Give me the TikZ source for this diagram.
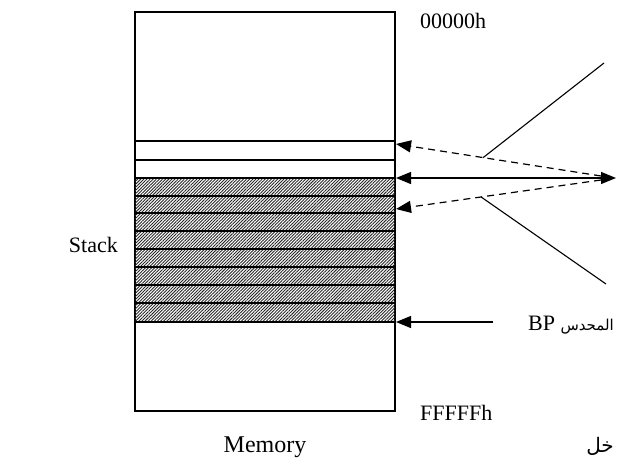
\documentclass[tikz,border=0pt]{standalone}
\usepackage{fontspec}
\setmainfont{Liberation Serif}
\newfontfamily\arabicfont[Script=Arabic]{DejaVu Sans}
\TeXXeTstate=1
\usetikzlibrary{arrows.meta,patterns.meta,calc}

\begin{document}
\begin{tikzpicture}[x=1pt,y=-1pt,
  font=\fontsize{22}{26}\selectfont,
  rowline/.style={line width=1.1pt},
  hatched/.style={pattern={Lines[angle=45,distance=2.2pt,line width=0.9pt]},pattern color=black!85},
  ptr/.style={line width=1.2pt,-{Triangle[length=15pt,width=12pt]}},
  dptr/.style={ptr,dash pattern=on 7pt off 5pt},
  lead/.style={line width=1.1pt},
  lbl/.style={inner sep=0pt,anchor=base west}]
\clip (0,0) rectangle (617,463);

% memory column: a tall box split into rows
\node[draw,line width=1.3pt,minimum width=260pt,minimum height=399pt,inner sep=0pt] (mem) at (265,211.5) {};
\fill[hatched] (135,178) rectangle (395,322);
\foreach \y in {141,160,178,196,213,231,249,267,285,303,322}
  \draw[rowline] (135,\y) -- (395,\y);

% points on the column's right side that the pointers reach
\coordinate (tipA) at (396,144);
\coordinate (tipB) at (396,178);
\coordinate (tipC) at (396,209);
\coordinate (tipBP) at (396,322);

% right-hand end points
\coordinate (hubA) at (601,176);
\coordinate (hubC) at (601,180);
\coordinate (hubB) at (616,178);
\coordinate (bpstart) at (493,322);

% pointers
\draw[dptr] (hubA) -- (tipA);
\draw[dptr] (hubC) -- (tipC);
\draw[line width=1.2pt,{Triangle[length=15pt,width=12pt]}-{Triangle[length=15pt,width=12pt]}] (tipB) -- (hubB);
\draw[ptr] (bpstart) -- (tipBP);

% leader lines from the dashed pointers
\coordinate (footA) at ($(hubA)!0.575!(tipA)$);
\coordinate (footC) at ($(hubC)!0.585!(tipC)$);
\coordinate (endA) at (604,63);
\coordinate (endC) at (606,284);
\draw[lead] (footA) -- (endA);
\draw[lead] (footC) -- (endC);

% labels
\node[lbl] (lo) at (420,28) {00000h};
\node[lbl] (hi) at (420,420) {FFFFFh};
\node[inner sep=0pt,anchor=base,font=\fontsize{24}{28}\selectfont] (memlbl) at (265,452) {Memory};
\node[inner sep=0pt,anchor=base east] (stk) at (118,252) {Stack};
\node[lbl] (bp) at (528,330) {BP};
\node[inner sep=0pt,anchor=base east,font=\arabicfont\fontsize{15}{18}\selectfont] (bpar) at (614,330) {\beginR المحدس\endR};
\node[inner sep=0pt,anchor=base east,font=\arabicfont\fontsize{20}{24}\selectfont] (entry) at (614,452) {\beginR خل\endR};
\end{tikzpicture}
\end{document}
